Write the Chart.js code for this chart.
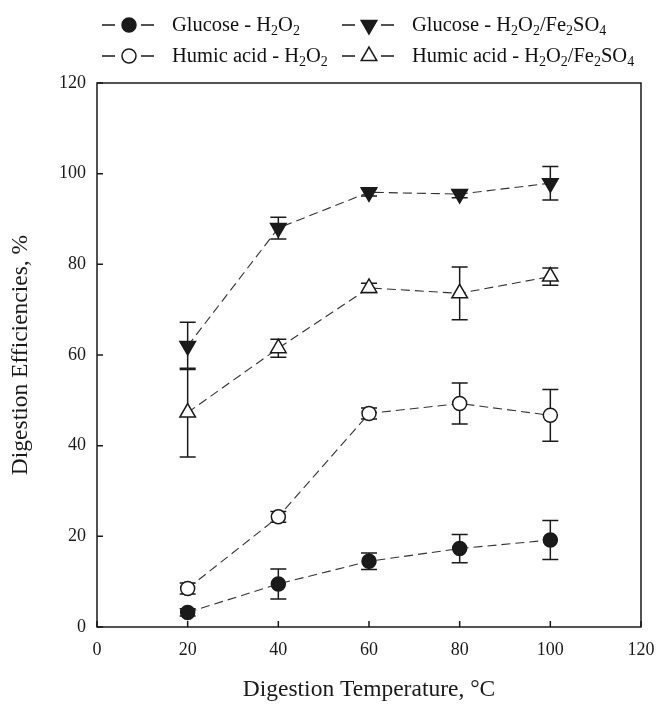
<!DOCTYPE html>
<html lang="en">
<head>
  <meta charset="UTF-8" />
  <title>Digestion Efficiencies</title>
  <script src="https://cdn.jsdelivr.net/npm/chart.js"></script>
  <style>
    body {
      margin: 0;
      padding: 0;
      background: #ffffff;
      font-family: "Liberation Serif", "DejaVu Serif", serif;
      color: #111;
    }
    #wrap { position: relative; width: 658px; height: 709px; }
    #legend { position: absolute; left: 0; top: 0; width: 658px; height: 80px; font-size: 20.5px; }
    .item { position: absolute; white-space: nowrap; line-height: 22px; }
    sub { font-size: 14px; vertical-align: -4px; line-height: 0; }
  </style>
</head>
<body>
  <div id="wrap">
    <canvas id="chart" width="658" height="709"></canvas>
    <div id="legend">
      <div class="item" style="left:172px; top:13px;">Glucose - H<sub>2</sub>O<sub>2</sub></div>
      <div class="item" style="left:412px; top:13px;">Glucose - H<sub>2</sub>O<sub>2</sub>/Fe<sub>2</sub>SO<sub>4</sub></div>
      <div class="item" style="left:172px; top:44px;">Humic acid - H<sub>2</sub>O<sub>2</sub></div>
      <div class="item" style="left:412px; top:44px;">Humic acid - H<sub>2</sub>O<sub>2</sub>/Fe<sub>2</sub>SO<sub>4</sub></div>
    </div>
  </div>

  <script>
    // digestion temperature, °C
    const temps = [20, 40, 60, 80, 100];

    // digestion efficiencies, % (mean and error)
    const glucoseH2O2 = [3.2, 9.5, 14.5, 17.3, 19.2];
    const glucoseH2O2Err = [0.8, 3.3, 1.8, 3.1, 4.3];
    const humicH2O2 = [8.5, 24.3, 47.1, 49.3, 46.7];
    const humicH2O2Err = [1.2, 1.2, 1.2, 4.5, 5.7];
    const glucoseFe = [62.0, 88.0, 95.9, 95.5, 97.9];
    const glucoseFeErr = [5.2, 2.4, 0.8, 0.8, 3.7];
    const humicFe = [47.3, 61.5, 74.8, 73.6, 77.3];
    const humicFeErr = [9.8, 2.0, 1.0, 5.8, 1.9];

    const xTicks = [0, 20, 40, 60, 80, 100, 120];
    const yTicks = [0, 20, 40, 60, 80, 100, 120];

    const ink = '#1a1a1a';

    function pts(vals, errs) {
      return temps.map((t, i) => ({ x: t, y: vals[i], err: errs[i] }));
    }

    function series(label, vals, errs, style, fill, rot, r) {
      return {
        label: label,
        data: pts(vals, errs),
        showLine: true,
        borderColor: '#333',
        borderWidth: 1.1,
        borderDash: [9, 5],
        pointStyle: style,
        pointRotation: rot,
        pointRadius: r,
        pointHoverRadius: r,
        pointBackgroundColor: fill,
        pointBorderColor: ink,
        pointBorderWidth: 1.5
      };
    }

    const errorBars = {
      id: 'errorBars',
      beforeDatasetsDraw(chart) {
        const c = chart.ctx;
        const xs = chart.scales.x, ys = chart.scales.y;
        c.save();
        c.strokeStyle = ink;
        c.lineWidth = 1.5;
        chart.data.datasets.forEach(ds => {
          ds.data.forEach(p => {
            const px = xs.getPixelForValue(p.x);
            const top = ys.getPixelForValue(p.y + p.err);
            const bot = ys.getPixelForValue(p.y - p.err);
            c.beginPath();
            c.moveTo(px, top); c.lineTo(px, bot);
            c.moveTo(px - 8, top); c.lineTo(px + 8, top);
            c.moveTo(px - 8, bot); c.lineTo(px + 8, bot);
            c.stroke();
          });
        });
        c.restore();
      }
    };

    const frame = {
      id: 'frame',
      afterDraw(chart) {
        const c = chart.ctx;
        const a = chart.chartArea;
        const xs = chart.scales.x, ys = chart.scales.y;
        c.save();
        c.strokeStyle = ink;
        c.lineWidth = 1.5;
        c.strokeRect(a.left, a.top, a.right - a.left, a.bottom - a.top);
        c.beginPath();
        xTicks.forEach(v => {
          const px = xs.getPixelForValue(v);
          c.moveTo(px, a.bottom); c.lineTo(px, a.bottom - 6);
        });
        yTicks.forEach(v => {
          const py = ys.getPixelForValue(v);
          c.moveTo(a.left, py); c.lineTo(a.left + 6, py);
        });
        c.stroke();

        // legend symbols
        const rows = [25, 56];
        const cols = [129, 369];
        const syms = [
          [cols[0], rows[0], 'circle', ink, 0],
          [cols[1], rows[0], 'tri', ink, 180],
          [cols[0], rows[1], 'circle', '#fff', 0],
          [cols[1], rows[1], 'tri', '#fff', 0]
        ];
        syms.forEach(s => {
          const [x, y, kind, fill, rot] = s;
          c.lineWidth = 1.5;
          c.beginPath();
          c.moveTo(x - 27, y); c.lineTo(x - 14, y);
          c.moveTo(x + 12, y); c.lineTo(x + 25, y);
          c.stroke();
          c.beginPath();
          if (kind === 'circle') {
            c.arc(x, y, 7, 0, Math.PI * 2);
          } else {
            let rad = rot * Math.PI / 180;
            for (let k = 0; k < 3; k++) {
              const fx = x + Math.sin(rad) * 9, fy = y - Math.cos(rad) * 9;
              if (k === 0) c.moveTo(fx, fy); else c.lineTo(fx, fy);
              rad += 2 * Math.PI / 3;
            }
            c.closePath();
          }
          c.fillStyle = fill;
          c.fill();
          c.stroke();
        });
        c.restore();
      }
    };

    const tickFont = { family: '"Liberation Serif", serif', size: 18 };
    const titleFont = { family: '"Liberation Serif", serif', size: 23.5 };

    new Chart(document.getElementById('chart'), {
      type: 'scatter',
      data: {
        datasets: [
          series('Glucose - H2O2', glucoseH2O2, glucoseH2O2Err, 'circle', ink, 0, 7),
          series('Humic acid - H2O2', humicH2O2, humicH2O2Err, 'circle', '#fff', 0, 7),
          series('Glucose - H2O2/Fe2SO4', glucoseFe, glucoseFeErr, 'triangle', ink, 180, 9),
          series('Humic acid - H2O2/Fe2SO4', humicFe, humicFeErr, 'triangle', '#fff', 0, 9)
        ]
      },
      options: {
        responsive: false,
        animation: false,
        layout: { padding: { top: 83, right: 0, left: 0, bottom: 0 } },
        plugins: {
          legend: { display: false },
          tooltip: { enabled: false }
        },
        scales: {
          x: {
            type: 'linear',
            min: 0,
            max: 120,
            afterBuildTicks: s => { s.ticks = xTicks.map(v => ({ value: v })); },
            afterFit: s => { s.height = 82; s.paddingRight = 17; },
            grid: { display: false, drawTicks: false },
            border: { display: false },
            ticks: { font: tickFont, color: ink, padding: 12 },
            title: { display: true, text: 'Digestion Temperature, °C', font: titleFont, color: ink, padding: { top: 4, bottom: 5 } }
          },
          y: {
            min: 0,
            max: 120,
            afterBuildTicks: s => { s.ticks = yTicks.map(v => ({ value: v })); },
            afterFit: s => { s.width = 97; },
            grid: { display: false, drawTicks: false },
            border: { display: false },
            ticks: { font: tickFont, color: ink, padding: 11 },
            title: { display: true, text: 'Digestion Efficiencies, %', font: titleFont, color: ink, padding: { top: 7, bottom: 4 } }
          }
        }
      },
      plugins: [errorBars, frame]
    });
  </script>
</body>
</html>
